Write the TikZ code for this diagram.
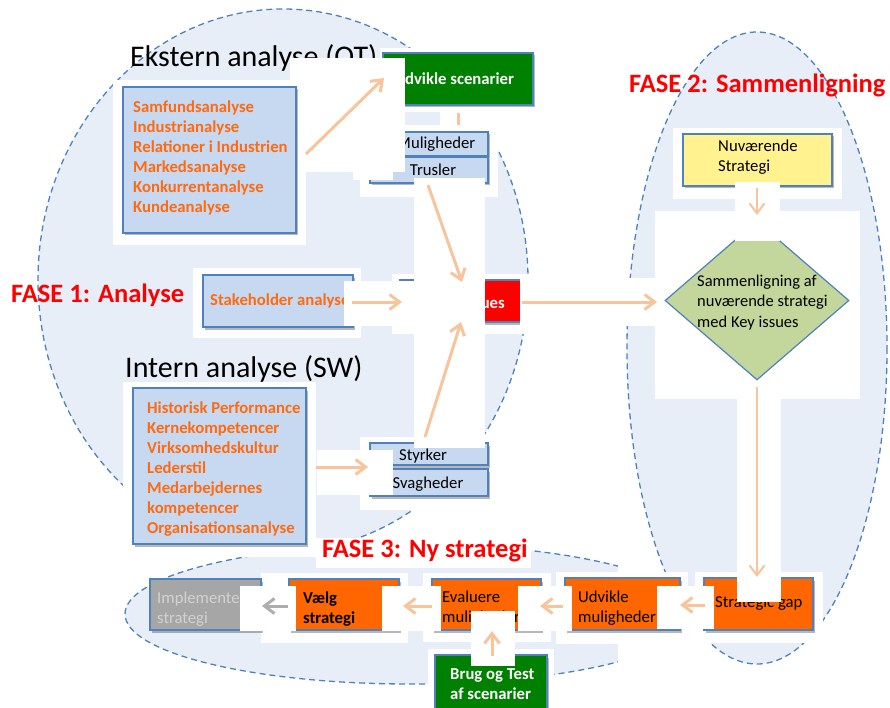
\documentclass[tikz,border=0pt]{standalone}
\usepackage{fontspec}
\setmainfont{Carlito}
\usetikzlibrary{arrows.meta,shadows,shapes.geometric}
\definecolor{ellfill}{HTML}{E8EEF7}
\definecolor{bordblue}{HTML}{4F81BD}
\definecolor{lbfill}{HTML}{C6D9F1}
\definecolor{orangetxt}{HTML}{FF6A10}
\definecolor{orangefill}{HTML}{FF6600}
\definecolor{greenfill}{HTML}{008000}
\definecolor{redfill}{HTML}{FF0000}
\definecolor{yellowfill}{HTML}{FFF28F}
\definecolor{diamfill}{HTML}{C3D69B}
\definecolor{grayfill}{HTML}{A6A6A6}
\definecolor{graytxt}{HTML}{D2D2D2}
\definecolor{peach}{HTML}{F8C49C}
\definecolor{grayarrow}{HTML}{ADADAD}
\newcommand{\fsz}[1]{\fontsize{#1}{20}\selectfont}
\newcommand{\ml}[1]{\begin{tabular}[t]{@{}l@{}}#1\end{tabular}}
\begin{document}
\begin{tikzpicture}[x=1pt,y=-1pt,
  phase/.style={fill=ellfill, draw=bordblue, line width=1.3pt, dash pattern=on 6pt off 4pt},
  patch/.style={fill=white},
  boxbase/.style={draw=bordblue, line width=1.2pt, inner sep=0pt,
    drop shadow={shadow xshift=1.5pt, shadow yshift=-2.5pt, opacity=0.28, fill=black}},
  lbbox/.style={boxbase, fill=lbfill},
  orbox/.style={boxbase, fill=orangefill},
  grbox/.style={boxbase, fill=greenfill},
  txt/.style={inner sep=0pt, anchor=base west, font=\fsz{16.7}},
  boldtxt/.style={txt, font=\fsz{16.7}\bfseries},
  listtxt/.style={boldtxt, text=orangetxt},
  bigtitle/.style={inner sep=0pt, anchor=base west, font=\fontsize{30}{34}\selectfont},
  fasetitle/.style={inner sep=0pt, anchor=base west, text=redfill, font=\fontsize{26.5}{30}\selectfont\bfseries},
  arr/.style={draw=peach, line width=3pt, -{Straight Barb[length=10pt,width=15pt]}},
  thinarr/.style={draw=peach, line width=2pt, -{Straight Barb[length=10pt,width=15pt]}},
  grayarr/.style={draw=grayarrow, line width=3pt, -{Straight Barb[length=10pt,width=15pt]}}
]
\path[use as bounding box] (0,0) rectangle (890,708);
% phase ellipses
\draw[phase] (283,280) ellipse [x radius=245, y radius=271];
\draw[phase] (410,614) ellipse [x radius=285, y radius=70];
\fill[patch] (618,0) rectangle (890,708);
\draw[phase] (757,348) ellipse [x radius=130, y radius=316];
% background patches
\fill[patch] (113,80) rectangle (306,245);
\fill[patch] (380,48) rectangle (550,112);
\fill[patch] (440,112) rectangle (498,125);
\fill[patch] (360,125) rectangle (498,197);
\fill[patch] (193,268) rectangle (361,338);
\fill[patch] (392,274) rectangle (532,334);
\fill[patch] (123,382) rectangle (316,557);
\fill[patch] (360,437) rectangle (493,510);
\fill[patch] (673,128) rectangle (842,199);
\fill[patch] (655,211) rectangle (860,399);
\fill[patch] (695,572) rectangle (823,643);
\fill[patch] (556,572) rectangle (688,644);
\fill[patch] (423,573) rectangle (551,642);
\fill[patch] (280,573) rectangle (408,643);
\fill[patch] (261,573) rectangle (280,643);
\fill[patch] (428,649) rectangle (554,708);
\fill[patch] (316,538) rectangle (531,568);
% titles
\node[bigtitle] (ekstern) at (130,67) {Ekstern analyse (OT)};
\node[bigtitle] (intern title) at (125,377) {Intern analyse (SW)};
\node[fasetitle] (fase1) at (11,302) {FASE 1: Analyse};
\node[fasetitle] (fase2) at (629,93) {FASE 2: Sammenligning};
\node[fasetitle] (fase3) at (322,557) {FASE 3: Ny strategi};
% boxes
\node[lbbox, minimum width=173pt, minimum height=146pt] (samf) at (209.5,160) {};
\node[listtxt] (samftxt) at (133,113) {\ml{Samfundsanalyse\\Industrianalyse\\Relationer i Industrien\\Markedsanalyse\\Konkurrentanalyse\\Kundeanalyse}};
\node[grbox, minimum width=150pt, minimum height=52pt] (scen) at (458,79) {};
\node[boldtxt, text=white] (scentxt) at (394,85) {Udvikle scenarier};
\node[lbbox, minimum width=102pt, minimum height=24pt] (mul) at (437,144) {};
\node[txt, anchor=base] (multxt) at (436,149) {Muligheder};
\node[lbbox, minimum width=118pt, minimum height=26pt] (trus) at (429,170) {};
\node[txt, anchor=base] (trustxt) at (433,176) {Trusler};
\node[lbbox, minimum width=150pt, minimum height=52pt] (stake) at (278,301) {};
\node[listtxt] (staketxt) at (210,305) {Stakeholder analyse};
\node[boxbase, fill=redfill, minimum width=140pt, minimum height=42pt] (key) at (470,301) {};
\node[boldtxt, text=white, anchor=base east] (keytxt) at (505,308) {Key issues};
\node[lbbox, minimum width=173pt, minimum height=156pt] (internbox) at (219.5,466) {};
\node[listtxt] (interntxt) at (147,413) {\ml{Historisk Performance\\Kernekompetencer\\Virksomhedskultur\\Lederstil\\Medarbejdernes\\kompetencer\\Organisationsanalyse}};
\node[lbbox, minimum width=118pt, minimum height=22pt] (styr) at (429,454) {};
\node[txt, anchor=base] (styrtxt) at (423,460) {Styrker};
\node[lbbox, minimum width=118pt, minimum height=27pt] (svag) at (429,482.5) {};
\node[txt, anchor=base] (svagtxt) at (428,488) {Svagheder};
\node[boxbase, fill=yellowfill, minimum width=149pt, minimum height=52pt] (nuv) at (757.5,160) {};
\node[txt] (nuvtxt) at (718,152) {\ml{Nuværende\\Strategi}};
\node[diamond, draw=bordblue, fill=diamfill, line width=1.2pt, inner sep=0pt, minimum width=184pt, minimum height=159pt] (diam) at (757,300.5) {};
\node[txt, font=\fsz{16.5}] (diamtxt) at (697,287) {\ml{Sammenligning af\\nuværende strategi\\med Key issues}};
\node[orbox, minimum width=109pt, minimum height=52pt] (gap) at (758.5,604) {};
\node[txt] (gaptxt) at (715,607) {Strategic gap};
\node[orbox, minimum width=115pt, minimum height=52pt] (udv) at (622.5,604) {};
\node[txt] (udvtxt) at (578,602) {\ml{Udvikle\\muligheder}};
\node[orbox, minimum width=109pt, minimum height=51pt] (eval) at (486.5,604.5) {};
\node[txt] (evaltxt) at (442,602) {\ml{Evaluere\\muligheder}};
\node[orbox, minimum width=110pt, minimum height=51pt] (vaelg) at (344,604.5) {};
\node[boldtxt] (vaelgtxt) at (303,603) {\ml{Vælg\\strategi}};
\node[boxbase, fill=grayfill, minimum width=111pt, minimum height=51pt] (impl) at (205.5,604.5) {};
\node[txt, text=graytxt] (impltxt) at (157,603) {\ml{Implementer\\strategi}};
\node[grbox, minimum width=112pt, minimum height=60pt] (brug) at (491,685) {};
\node[boldtxt, text=white] (brugtxt) at (450,679) {\ml{Brug og Test\\af scenarier}};
% arrow patches
\fill[patch] (290,58) rectangle (405,86);
\fill[patch] (305,58) rectangle (405,172);
\fill[patch] (353,170) rectangle (393,180);
\fill[patch] (414,178) rectangle (485,448);
\fill[patch] (344,281) rectangle (416,326);
\fill[patch] (520,278) rectangle (655,326);
\fill[patch] (317,450) rectangle (393,495);
\fill[patch] (735,182) rectangle (780,241);
\fill[patch] (737,399) rectangle (781,602);
\fill[patch] (657,586) rectangle (714,629);
\fill[patch] (518,586) rectangle (572,631);
\fill[patch] (471,611) rectangle (515,666);
\fill[patch] (382,586) rectangle (441,631);
\fill[patch] (240,586) rectangle (296,631);
% arrow end points
\coordinate (a1s) at (306,154); \coordinate (a1e) at (384,78);
\coordinate (a2s) at (428,185); \coordinate (a2e) at (462,282);
\coordinate (a3s) at (352,302); \coordinate (a3e) at (402,302);
\coordinate (a4s) at (425,437); \coordinate (a4e) at (461,322);
\coordinate (a5s) at (316,467); \coordinate (a5e) at (368,467);
\coordinate (a6s) at (522,302); \coordinate (a6e) at (657,302);
\coordinate (a7s) at (757,188); \coordinate (a7e) at (757,215);
\coordinate (a8s) at (757,387); \coordinate (a8e) at (757,577);
\coordinate (a9s) at (705,605); \coordinate (a9e) at (680,605);
\coordinate (a10s) at (563,606); \coordinate (a10e) at (540,606);
\coordinate (a11s) at (492,656); \coordinate (a11e) at (492,631);
\coordinate (a12s) at (432,606); \coordinate (a12e) at (403,606);
\coordinate (a13s) at (288,606); \coordinate (a13e) at (262,606);
\coordinate (stubs) at (458,113); \coordinate (stube) at (458,125);
% arrows
\draw[arr] (a1s) -- (a1e);
\draw[arr] (a2s) -- (a2e);
\draw[arr] (a3s) -- (a3e);
\draw[arr] (a4s) -- (a4e);
\draw[arr] (a5s) -- (a5e);
\draw[arr] (a6s) -- (a6e);
\draw[thinarr] (a7s) -- (a7e);
\draw[thinarr] (a8s) -- (a8e);
\draw[arr] (a9s) -- (a9e);
\draw[arr] (a10s) -- (a10e);
\draw[arr] (a11s) -- (a11e);
\draw[arr] (a12s) -- (a12e);
\draw[grayarr] (a13s) -- (a13e);
\draw[draw=peach, line width=3pt] (stubs) -- (stube);
\end{tikzpicture}
\end{document}
